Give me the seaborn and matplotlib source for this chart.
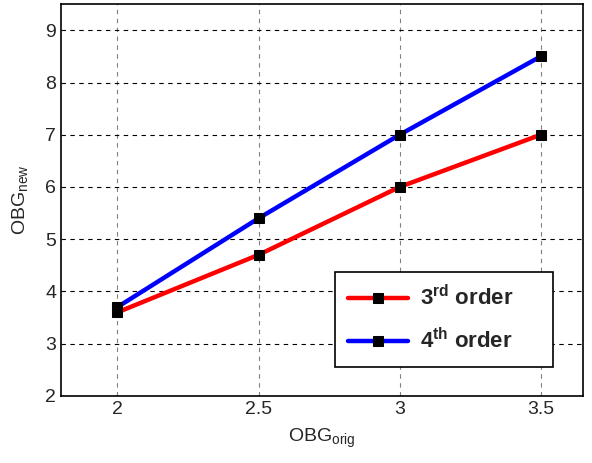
import numpy as np
import matplotlib
matplotlib.use("Agg")
import matplotlib.pyplot as plt
import pandas as pd
import seaborn as sns

obg_orig = [2.0, 2.5, 3.0, 3.5]
third_order = [3.6, 4.7, 6.0, 7.0]
fourth_order = [3.7, 5.4, 7.0, 8.5]
series_names = [r"3$^{\mathbf{rd}}$ order", r"4$^{\mathbf{th}}$ order"]

df = pd.DataFrame({
    "x": obg_orig * 2,
    "y": third_order + fourth_order,
    "series": [series_names[0]] * 4 + [series_names[1]] * 4,
})

sns.set_style("white")
plt.rcParams["font.family"] = ["Liberation Sans", "DejaVu Sans"]
plt.rcParams["mathtext.fontset"] = "custom"
plt.rcParams["mathtext.rm"] = "Liberation Sans"
plt.rcParams["mathtext.bf"] = "Liberation Sans:bold"

fig, ax = plt.subplots(figsize=(5.92, 4.63), dpi=100)
fig.subplots_adjust(left=0.103, right=0.985, top=0.991, bottom=0.145)

sns.lineplot(data=df, x="x", y="y", hue="series", palette=["red", "blue"],
             marker="s", markersize=7, markerfacecolor="black",
             markeredgecolor="black", linewidth=3.2, ax=ax)

ax.set_xlim(1.8, 3.65)
ax.set_ylim(2, 9.5)
ax.set_xticks([2, 2.5, 3, 3.5])
ax.set_xticklabels(["2", "2.5", "3", "3.5"])
ax.set_yticks(range(2, 10))
ax.tick_params(direction="in", length=4, labelsize=14, color="black")
ax.yaxis.grid(True, linestyle=(0, (4, 4)), color="black", linewidth=0.8)
ax.xaxis.grid(True, linestyle=(0, (4, 4)), color="gray", linewidth=0.8)
for s in ax.spines.values():
    s.set_color("black")
    s.set_linewidth(1.2)

ax.set_xlabel(r"OBG$_{\mathrm{orig}}$", fontsize=14, labelpad=6)
ax.set_ylabel(r"OBG$_{\mathrm{new}}$", fontsize=14, labelpad=10)

leg = ax.legend(loc="lower left", bbox_to_anchor=(0.525, 0.074, 0.418, 0.24),
                mode="expand", borderaxespad=0,
                prop={"weight": "bold", "size": 16}, fancybox=False,
                edgecolor="black", framealpha=1, handlelength=2.7,
                handletextpad=0.5, borderpad=0.6, labelspacing=0.8)
leg.get_frame().set_linewidth(1.2)

fig.savefig("out.png", dpi=100)
